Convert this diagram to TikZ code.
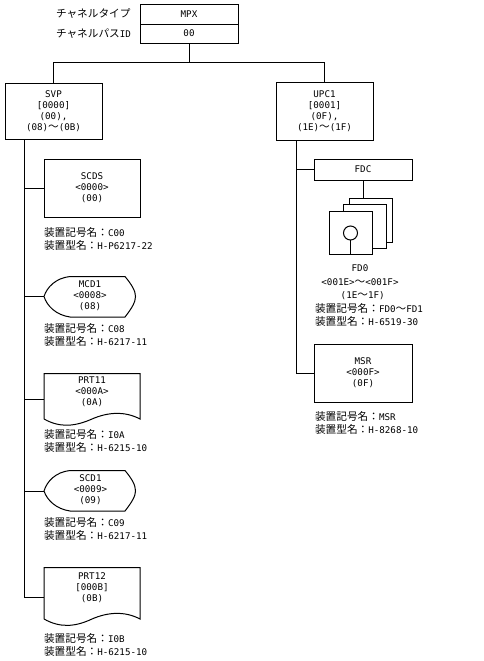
\documentclass[tikz,border=0pt]{standalone}
\usepackage{fontspec}
\newfontfamily\jpf{Noto Sans CJK JP}
\newfontfamily\latf{DejaVu Sans Mono}
\newcommand{\lt}[1]{{\fontsize{6.9}{8.25}\selectfont\latf #1}}
\newcommand{\jt}[1]{{\fontsize{8}{8.25}\selectfont\jpf #1}}
\newcommand{\wv}{\jt{～}}
\newcommand{\devlabel}[2]{\jt{装置記号名：}\lt{#1}\\[1.4pt]\jt{装置型名：}\lt{#2}}
\begin{document}
\begin{tikzpicture}[x=0.75pt,y=-0.75pt,
  every node/.style={inner sep=0pt,outer sep=0pt},
  every path/.style={line width=0.75pt},
  box/.style={draw=black,align=center,font=\fontsize{6.9}{8.25}\selectfont\latf},
  txt/.style={align=center,font=\fontsize{6.9}{8.25}\selectfont\latf},
  devcap/.style={align=left,anchor=north west,font=\fontsize{6.9}{8.25}\selectfont\latf},
  hdr/.style={anchor=west,align=left}]
\useasboundingbox (0,0) rectangle (484,661);
\fill[white] (0,0) rectangle (484,661);

% header
\node[box,minimum width=73.5pt,minimum height=15pt] (mpx) at (189,14) {MPX};
\node[box,minimum width=73.5pt,minimum height=14.25pt] (ch) at (189,33.5) {00};
\node[hdr] (hdr1) at (56,14) {\jt{チャネルタイプ}};
\node[hdr] (hdr2) at (56,34) {\jt{チャネルパス}\lt{ID}};

% main boxes
\node[box,minimum width=72.75pt,minimum height=42pt] (svp) at (53.5,111) {SVP\\{}[0000]\\(00),\\(08)\wv(0B)};
\node[box,minimum width=72.75pt,minimum height=43.5pt] (upc) at (324.5,111) {UPC1\\{}[0001]\\(0F),\\(1E)\wv(1F)};
\coordinate (busl) at (53.5,62);
\coordinate (busr) at (324.5,62);
\coordinate (busm) at (189,62);
\draw (ch.south) -- (busm);
\draw (svp.north) -- (busl) -- (busr) -- (upc.north);

% left branch
\coordinate (ltop) at (24,139);
\node[box,minimum width=72pt,minimum height=43.5pt] (scds) at (92,188) {SCDS\\<0000>\\(00)};
\node[devcap] (scdsc) at (44,227.5) {\devlabel{C00}{H-P6217-22}};

\draw (125,276.5) -- (70,276.5) .. controls (56,278) and (47,287) .. (44,296.5) coordinate (mcdw) .. controls (47,306) and (56,315) .. (70,317) -- (125,317) .. controls (132,308) and (135.5,302) .. (135.5,296.5) .. controls (135.5,291) and (132,285) .. (125,276.5);
\node[txt] (mcd) at (90,296) {MCD1\\<0008>\\(08)};
\node[devcap] (mcdc) at (44,323.5) {\devlabel{C08}{H-6217-11}};

\draw (44,419) -- (44,373.5) -- (140,373.5) -- (140,419) .. controls (125,411) and (108,412) .. (92,419) .. controls (75,426.5) and (60,428) .. (44,419);
\coordinate (prt1w) at (44,399);
\node[txt] (prt1) at (92,392) {PRT11\\<000A>\\(0A)};
\node[devcap] (prt1c) at (44,429.5) {\devlabel{I0A}{H-6215-10}};

\draw (125,470.5) -- (70,470.5) .. controls (56,472) and (47,481) .. (44,491) coordinate (scdw) .. controls (47,500) and (56,509) .. (70,511) -- (125,511) .. controls (132,502) and (135.5,496) .. (135.5,491) .. controls (135.5,485) and (132,479) .. (125,470.5);
\node[txt] (scd) at (90.5,490) {SCD1\\<0009>\\(09)};
\node[devcap] (scdc) at (44,518) {\devlabel{C09}{H-6217-11}};

\draw (44,619) -- (44,567.5) -- (140,567.5) -- (140,619) .. controls (125,611) and (108,612) .. (92,619) .. controls (75,627) and (60,628) .. (44,619);
\coordinate (prt2w) at (44,597);
\node[txt] (prt2) at (92,588) {PRT12\\{}[000B]\\(0B)};
\node[devcap] (prt2c) at (44,633.5) {\devlabel{I0B}{H-6215-10}};

\draw (ltop) -- (ltop |- prt2w) -- (prt2w);
\draw (ltop |- scds.west) -- (scds.west);
\draw (ltop |- mcdw) -- (mcdw);
\draw (ltop |- prt1w) -- (prt1w);
\draw (ltop |- scdw) -- (scdw);

% right branch
\coordinate (rtop) at (296,140);
\node[box,minimum width=73.5pt,minimum height=15.75pt] (fdc) at (363,169.5) {FDC};
\node[box,minimum width=73.5pt,minimum height=43.5pt] (msr) at (363,373) {MSR\\<000F>\\(0F)};
\draw (rtop) -- (rtop |- msr.west) -- (msr.west);
\draw (rtop |- fdc.west) -- (fdc.west);

% floppy stack
\node[draw,fill=white,minimum width=32.25pt,minimum height=33pt] (fd3) at (370.5,220) {};
\node[draw,fill=white,minimum width=32.25pt,minimum height=33pt] (fd2) at (364.5,226.5) {};
\node[draw,fill=white,minimum width=32.25pt,minimum height=32.25pt] (fd1) at (351,232.5) {};
\draw (fdc.south) -- (fdc.south |- fd3.north);
\node[draw,fill=white,circle,minimum size=10.5pt] (hole) at (350.5,233) {};
\draw (hole.south) -- (hole.south |- fd1.south);

\node[txt] (fdt) at (360,282.5) {FD0\\[2pt]\lt{<001E>}\wv\lt{<001F>}\\[2pt]\hspace*{4pt}(1E\wv 1F)};
\node[devcap] (fdc2) at (315,303.5) {\devlabel{FD0\wv FD1}{H-6519-30}};
\node[devcap] (msrc) at (315,411.5) {\devlabel{MSR}{H-8268-10}};
\end{tikzpicture}
\end{document}
